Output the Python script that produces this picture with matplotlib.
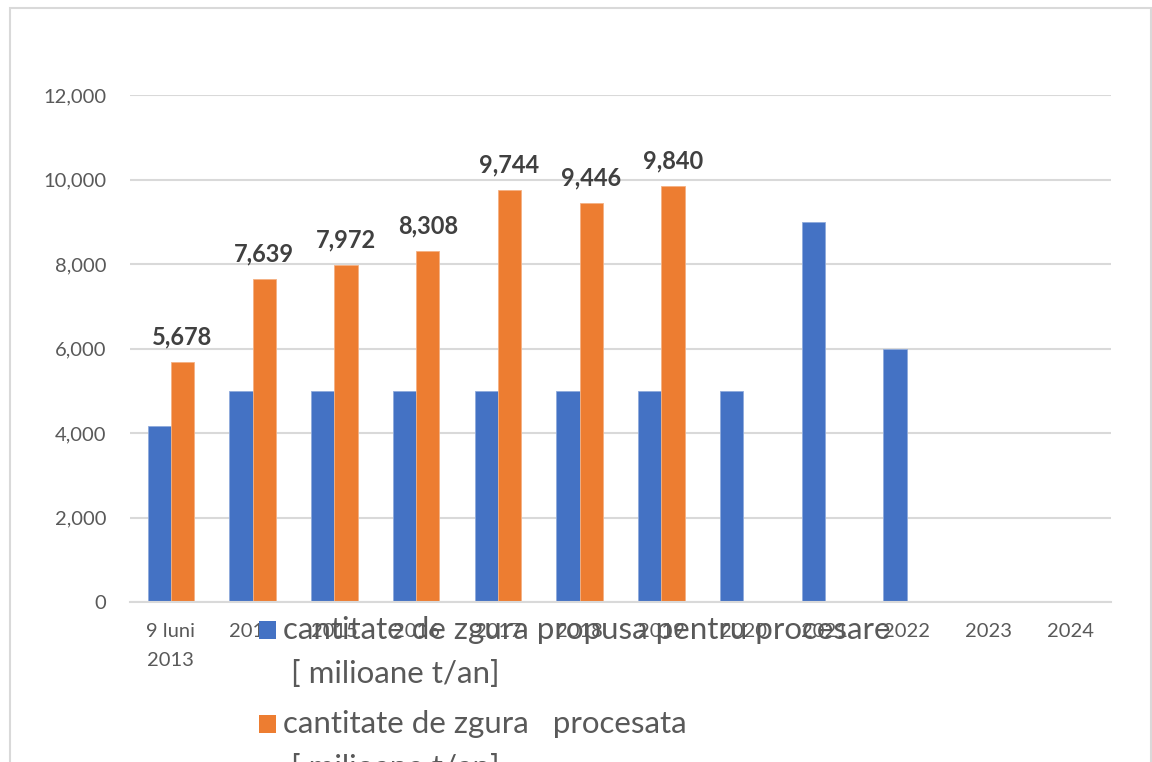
import matplotlib
matplotlib.use("Agg")
import matplotlib.pyplot as plt
from matplotlib.patches import Rectangle
from matplotlib.ticker import FuncFormatter
import numpy as np

categories = ["9 luni\n2013", "2014", "2015", "2016", "2017", "2018", "2019",
              "2020", "2021", "2022", "2023", "2024"]
propusa = [4170, 5000, 5000, 5000, 5000, 5000, 5000, 5000, 9000, 6000, 0, 0]
procesata = [5678, 7639, 7972, 8308, 9744, 9446, 9840, None, None, None, None, None]
series_names = ["cantitate de zgura propusa pentru procesare\n [ milioane t/an]",
                "cantitate de zgura   procesata\n [ milioane t/an]"]
yticks = [0, 2000, 4000, 6000, 8000, 10000, 12000]

BLUE = "#4472C4"
ORANGE = "#ED7D31"
GRID = "#D9D9D9"
TXT = "#595959"
FONT = ["Lato", "DejaVu Sans"]
plt.rcParams['font.family'] = FONT

W, H = 1152, 762
fig = plt.figure(figsize=(W / 100, H / 100), dpi=100)
ax = fig.add_axes([130 / W, 1 - 602 / H, (1111 - 130) / W, (602 - 95) / H])

x = np.arange(len(categories))
bw = 0.285
pv = [v if v else 0 for v in propusa]
ax.bar(x - bw / 2, pv, bw, color=BLUE, edgecolor="#8FAADC", linewidth=0.6, zorder=3)
oidx = [i for i, v in enumerate(procesata) if v is not None]
ovals = [procesata[i] for i in oidx]
ax.bar(np.array(oidx) + bw / 2, ovals, bw, color=ORANGE, edgecolor="#F4B183", linewidth=0.6, zorder=3)
for i, v in zip(oidx, ovals):
    ax.annotate(f"{v:,}", (i + bw / 2, v), xytext=(0, 10), textcoords="offset points",
                ha="center", va="bottom", fontsize=17, fontweight="bold", color="#404040")

ax.set_xlim(-0.5, len(categories) - 0.5)
ax.set_ylim(0, 12000)
ax.set_yticks(yticks)
ax.yaxis.set_major_formatter(FuncFormatter(lambda v, p: f"{int(v):,}"))
ax.set_xticks(x)
ax.set_xticklabels(categories, linespacing=1.85)
ax.tick_params(axis="y", length=0, pad=17, labelsize=14.5, labelcolor=TXT)
ax.tick_params(axis="x", length=0, pad=15, labelsize=14.5, labelcolor=TXT)
ax.grid(axis="y", color=GRID, linewidth=1.5, zorder=0)
ax.set_axisbelow(True)
for s in ["top", "right", "left"]:
    ax.spines[s].set_visible(False)
ax.spines["bottom"].set_color(GRID)
ax.spines["bottom"].set_linewidth(1.5)
ax.spines["bottom"].set_zorder(4)

# outer border
fig.patches.append(Rectangle((10 / W, -0.05), (1151 - 10) / W, 1 - 8 / H + 0.05,
                             transform=fig.transFigure, fill=False, edgecolor=GRID,
                             linewidth=1.5, zorder=0))

# legend (overlapping the category labels, as in the original)
leg = [(BLUE, 621, series_names[0]), (ORANGE, 715, series_names[1])]
for col, ytop, name in leg:
    fig.patches.append(Rectangle((259 / W, 1 - (ytop + 18) / H), 17 / W, 18 / H,
                                 transform=fig.transFigure, facecolor=col,
                                 edgecolor="none", zorder=5))
    fig.text(283 / W, 1 - (ytop - 5) / H, name, fontsize=22.5, color=TXT,
             ha="left", va="top", linespacing=1.7, zorder=6)

fig.savefig("out.png", dpi=100)
